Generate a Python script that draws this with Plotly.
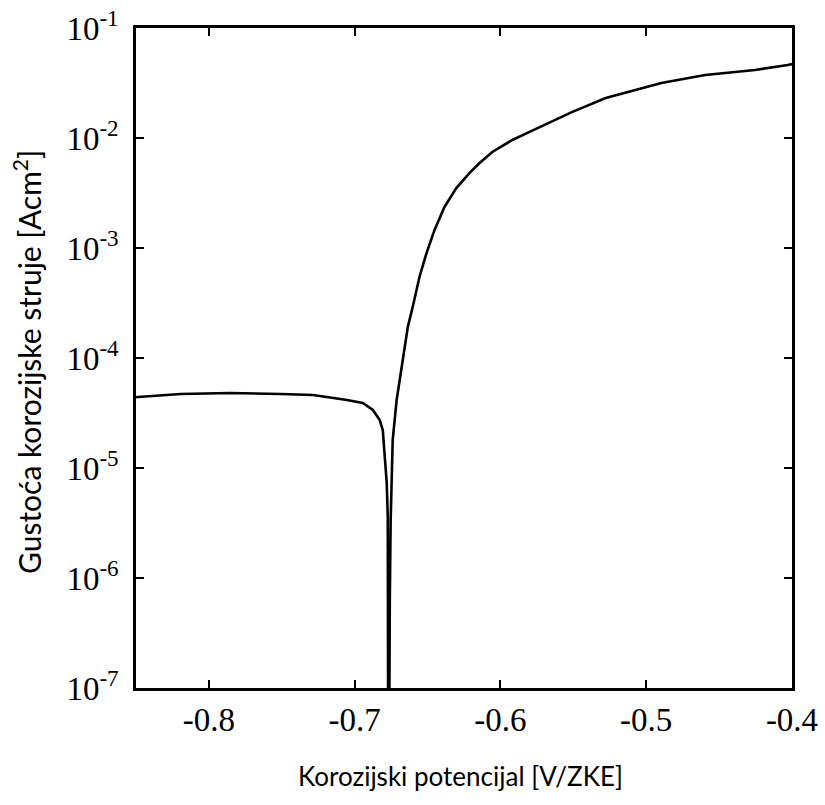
import plotly.graph_objects as go

# Potential [V/ZKE] and current density [A/cm^2]
potential = [-0.85, -0.8486, -0.8193, -0.7852, -0.7510, -0.7285, -0.7053, -0.6944,
             -0.6875, -0.6828, -0.6807, -0.6780, -0.6773, -0.6768,
             -0.6759, -0.6753, -0.6739, -0.6712, -0.6691, -0.6657, -0.6635, -0.6602,
             -0.6555, -0.6507, -0.6452, -0.6384, -0.6304, -0.6213, -0.6145, -0.6056,
             -0.5918, -0.5804, -0.5645, -0.5510, -0.5278,
             -0.4896, -0.4596, -0.4254, -0.4029, -0.40]
current = [4.40e-5, 4.42e-5, 4.71e-5, 4.81e-5, 4.71e-5, 4.61e-5, 4.15e-5, 3.90e-5,
           3.37e-5, 2.73e-5, 2.21e-5, 7.3e-6, 3.6e-6, 1e-9,
           6.3e-7, 3.4e-6, 1.8e-5, 4.15e-5, 6.3e-5, 1.18e-4, 1.93e-4, 2.91e-4,
           5.48e-4, 9.0e-4, 1.46e-3, 2.36e-3, 3.49e-3, 4.8e-3, 5.89e-3, 7.46e-3,
           9.6e-3, 1.13e-2, 1.41e-2, 1.72e-2, 2.31e-2,
           3.16e-2, 3.74e-2, 4.15e-2, 4.61e-2, 4.7e-2]

x_tickvals = [-0.8, -0.7, -0.6, -0.5, -0.4]
x_ticktext = ["-0.8", "-0.7", "-0.6", "-0.5", "-0.4"]
y_tickvals = [1e-7, 1e-6, 1e-5, 1e-4, 1e-3, 1e-2, 1e-1]
y_ticktext = ["10<sup>-7</sup>", "10<sup>-6</sup>", "10<sup>-5</sup>", "10<sup>-4</sup>",
              "10<sup>-3</sup>", "10<sup>-2</sup>", "10<sup>-1</sup>"]

x_title = "Korozijski potencijal [V/ZKE]"
y_title = "Gustoća korozijske struje [Acm<sup>2</sup>]"

fig = go.Figure()
fig.add_trace(go.Scatter(x=potential, y=current, mode="lines",
                         line=dict(color="black", width=2.6), showlegend=False))

tickfont = dict(family="Liberation Serif", size=33, color="black")
axis_common = dict(showline=True, linecolor="black", linewidth=2.5, mirror="ticks",
                   ticks="inside", ticklen=8, tickwidth=1.5, tickcolor="black",
                   showgrid=False, zeroline=False, tickfont=tickfont, automargin=False,
                   ticklabeloverflow="allow")
fig.update_layout(
    width=825, height=805,
    margin=dict(l=136, r=33, t=28, b=117),
    paper_bgcolor="white", plot_bgcolor="white",
    xaxis=dict(range=[-0.85, -0.4], tickvals=x_tickvals, ticktext=x_ticktext,
               ticklabelstandoff=1, **axis_common),
    yaxis=dict(type="log", range=[-7, -1], tickvals=y_tickvals, ticktext=y_ticktext,
               ticklabelstandoff=8, **axis_common),
    annotations=[
        dict(text=x_title, xref="paper", yref="paper", x=(460 - 136) / 656,
             y=(688 - 776) / 660, xanchor="center", yanchor="middle", showarrow=False,
             font=dict(family="Lato", size=26, color="black")),
        dict(text=y_title, xref="paper", yref="paper", x=(27 - 136) / 656,
             y=(688 - 362) / 660, xanchor="center", yanchor="middle", showarrow=False,
             textangle=-90, font=dict(family="Lato", size=30, color="black")),
    ],
)

fig.write_html("out.html", config={"displayModeBar": False},
               post_script="document.body.style.margin='0';")
